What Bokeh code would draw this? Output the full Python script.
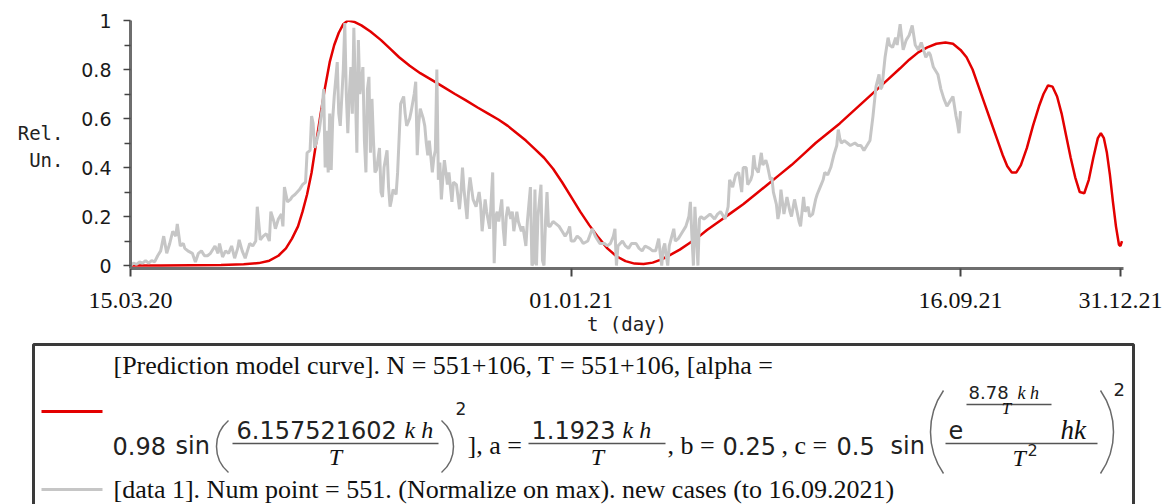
import math
from bokeh.plotting import figure
from bokeh.models import FixedTicker, Range1d
from bokeh.layouts import column, row
from bokeh.embed import file_html
from bokeh.resources import INLINE
from bokeh.core.properties import value

# ---------------- data ----------------
x_ticks = [0, 292, 550, 656]
x_tick_labels = ["15.03.20", "01.01.21", "16.09.21", "31.12.21"]
y_ticks = [0, 0.2, 0.4, 0.6, 0.8, 1.0]
y_tick_labels = ["0", "0.2", "0.4", "0.6", "0.8", "1"]
y_minor = [0.1, 0.3, 0.5, 0.7, 0.9]

# prediction model curve (day, relative units)
red_day = [0, 20, 40, 60, 75, 85, 92, 98, 103, 107, 111, 114, 117, 120, 123, 126, 129, 132, 135, 138,
           141, 144, 148, 153, 159, 166, 172, 178, 185, 192, 199, 207, 215, 222, 230, 237, 244, 250,
           256, 262, 268, 274, 280, 286, 292, 298, 304, 310, 316, 322, 328, 334, 340, 346, 352, 358,
           364, 370, 376, 382, 390, 398, 406, 414, 422, 430, 438, 446, 454, 462, 470, 478, 486, 494,
           502, 510, 516, 522, 528, 534, 540, 545, 550, 554, 558, 562, 566, 570, 574, 578, 581, 584,
           587, 590, 594, 598, 602, 605, 608, 611, 614, 617, 620, 623, 626, 629, 632, 635, 638, 641,
           643, 645, 647, 649, 651, 653, 655, 656, 657]
red_val = [0.0, 0.0, 0.001, 0.002, 0.005, 0.01, 0.02, 0.04, 0.07, 0.11, 0.16, 0.22, 0.29, 0.38, 0.50,
           0.62, 0.73, 0.83, 0.90, 0.95, 0.985, 1.0, 0.995, 0.98, 0.955, 0.92, 0.885, 0.85, 0.815,
           0.785, 0.76, 0.73, 0.70, 0.675, 0.645, 0.62, 0.595, 0.57, 0.54, 0.51, 0.475, 0.44, 0.395,
           0.34, 0.28, 0.22, 0.165, 0.115, 0.07, 0.038, 0.018, 0.008, 0.006, 0.012, 0.025, 0.045,
           0.065, 0.09, 0.115, 0.145, 0.18, 0.215, 0.25, 0.29, 0.33, 0.37, 0.41, 0.455, 0.50, 0.54,
           0.58, 0.625, 0.67, 0.715, 0.76, 0.805, 0.84, 0.87, 0.89, 0.905, 0.91, 0.905, 0.88, 0.85,
           0.80, 0.73, 0.66, 0.59, 0.52, 0.45, 0.405, 0.38, 0.38, 0.41, 0.48, 0.57, 0.65, 0.70,
           0.735, 0.73, 0.69, 0.62, 0.53, 0.44, 0.36, 0.30, 0.295, 0.35, 0.44, 0.52, 0.54, 0.52,
           0.46, 0.37, 0.26, 0.16, 0.085, 0.08, 0.10]

# data_1: normalized new cases (day, relative units)
gray_day = [0, 2, 4, 6, 8, 10, 12, 14, 16, 18, 20, 22, 24, 26, 28, 30, 31, 33, 35, 36, 38, 41, 43, 45,
            47, 49, 51, 53, 56, 58, 59, 61, 63, 65, 67, 69, 71, 72, 74, 76, 78, 79, 81, 83, 84, 86,
            88, 90, 92, 93, 95, 96, 98, 100, 101, 102, 104, 106, 107, 109, 112, 114, 116, 117, 119,
            120, 121, 122, 123, 125, 127, 128, 129, 130, 131, 132, 133, 134, 135, 137, 138, 139, 141,
            142, 143, 144, 145, 146, 147, 148, 150, 151, 152, 154, 155, 156, 157, 158, 159, 160, 161,
            162, 163, 165, 166, 167, 168, 170, 171, 172, 173, 174, 176, 177, 179, 181, 182, 183, 185,
            186, 188, 189, 190, 191, 192, 194, 195, 196, 197, 198, 200, 201, 202, 203, 204, 205, 206,
            207, 208, 210, 211, 213, 214, 216, 218, 219, 220, 221, 223, 224, 225, 227, 229, 231, 232,
            233, 235, 236, 238, 240, 241, 242, 243, 244, 246, 247, 248, 249, 250, 252, 253, 254, 256,
            257, 259, 260, 262, 263, 265, 266, 267, 268, 269, 270, 272, 273, 274, 275, 276, 277, 278,
            280, 282, 284, 286, 288, 290, 291, 292, 294, 296, 298, 300, 303, 306, 308, 309, 311, 314,
            316, 318, 320, 321, 322, 323, 326, 328, 330, 332, 335, 337, 339, 341, 344, 346, 348, 350,
            351, 352, 353, 354, 355, 356, 357, 360, 361, 363, 365, 368, 370, 371, 372, 373, 374, 375,
            376, 377, 378, 380, 382, 384, 387, 389, 391, 393, 394, 396, 397, 399, 401, 403, 405, 406,
            408, 409, 411, 412, 413, 414, 416, 418, 419, 421, 422, 424, 425, 426, 428, 429, 430, 431,
            433, 435, 437, 438, 440, 441, 443, 444, 446, 447, 449, 450, 452, 454, 455, 457, 459, 460,
            462, 464, 466, 468, 469, 470, 471, 473, 475, 477, 480, 482, 484, 486, 487, 489, 490, 492,
            494, 496, 497, 498, 500, 502, 503, 505, 507, 508, 510, 512, 514, 516, 518, 520, 522, 524,
            526, 527, 529, 530, 532, 534, 535, 537, 539, 541, 543, 545, 547, 548, 549, 550]
gray_val = [0.0, 0.01, 0.005, 0.015, 0.01, 0.02, 0.01, 0.02, 0.015, 0.04, 0.06, 0.12, 0.05, 0.09, 0.14,
            0.12, 0.17, 0.08, 0.09, 0.07, 0.06, 0.05, 0.015, 0.05, 0.06, 0.04, 0.04, 0.05, 0.08, 0.05,
            0.09, 0.035, 0.06, 0.05, 0.08, 0.03, 0.07, 0.105, 0.06, 0.03, 0.07, 0.09, 0.08, 0.10, 0.24,
            0.105, 0.12, 0.13, 0.10, 0.22, 0.18, 0.15, 0.19, 0.21, 0.16, 0.32, 0.26, 0.27, 0.28, 0.29,
            0.31, 0.33, 0.34, 0.46, 0.47, 0.61, 0.58, 0.48, 0.50, 0.55, 0.64, 0.72, 0.40, 0.55, 0.38,
            0.62, 0.39, 0.60, 0.69, 0.83, 0.62, 0.57, 0.80, 0.99, 0.70, 0.54, 0.70, 0.81, 0.62, 0.97,
            0.46, 0.92, 0.70, 0.81, 0.51, 0.38, 0.72, 0.77, 0.46, 0.68, 0.51, 0.38, 0.39, 0.48, 0.30,
            0.28, 0.40, 0.47, 0.32, 0.24, 0.27, 0.31, 0.29, 0.38, 0.66, 0.69, 0.62, 0.57, 0.60, 0.63,
            0.70, 0.75, 0.45, 0.58, 0.64, 0.60, 0.57, 0.50, 0.45, 0.51, 0.38, 0.44, 0.47, 0.80, 0.35,
            0.42, 0.27, 0.36, 0.43, 0.33, 0.38, 0.26, 0.34, 0.33, 0.23, 0.30, 0.40, 0.31, 0.19, 0.30,
            0.36, 0.27, 0.24, 0.30, 0.25, 0.14, 0.27, 0.22, 0.15, 0.38, 0.01, 0.20, 0.22, 0.18, 0.27,
            0.15, 0.08, 0.20, 0.24, 0.19, 0.22, 0.14, 0.22, 0.18, 0.14, 0.16, 0.08, 0.18, 0.32, 0.0,
            0.01, 0.31, 0.0, 0.20, 0.33, 0.02, 0.0, 0.18, 0.30, 0.16, 0.16, 0.18, 0.17, 0.16, 0.14,
            0.12, 0.14, 0.16, 0.10, 0.10, 0.12, 0.11, 0.09, 0.10, 0.15, 0.12, 0.11, 0.09, 0.09, 0.08,
            0.09, 0.12, 0.15, 0.0, 0.08, 0.10, 0.08, 0.07, 0.09, 0.09, 0.07, 0.06, 0.08, 0.07, 0.06,
            0.06, 0.11, 0.05, 0.0, 0.07, 0.09, 0.04, 0.0, 0.08, 0.15, 0.10, 0.11, 0.13, 0.16, 0.20,
            0.26, 0.12, 0.0, 0.24, 0.12, 0.0, 0.19, 0.20, 0.19, 0.20, 0.21, 0.19, 0.21, 0.22, 0.20,
            0.19, 0.24, 0.35, 0.32, 0.37, 0.38, 0.30, 0.40, 0.40, 0.33, 0.35, 0.37, 0.45, 0.40, 0.38,
            0.46, 0.41, 0.43, 0.41, 0.35, 0.36, 0.30, 0.25, 0.19, 0.22, 0.31, 0.21, 0.28, 0.22, 0.20,
            0.27, 0.24, 0.18, 0.16, 0.28, 0.22, 0.24, 0.20, 0.21, 0.27, 0.29, 0.32, 0.35, 0.38, 0.37,
            0.40, 0.45, 0.49, 0.555, 0.52, 0.50, 0.51, 0.50, 0.49, 0.50, 0.49, 0.49, 0.47, 0.48, 0.50,
            0.51, 0.61, 0.73, 0.78, 0.72, 0.73, 0.85, 0.93, 0.90, 0.89, 0.93, 0.90, 0.985, 0.88, 0.92,
            0.94, 0.98, 0.90, 0.88, 0.91, 0.87, 0.85, 0.87, 0.86, 0.81, 0.79, 0.78, 0.72, 0.68, 0.65,
            0.67, 0.69, 0.61, 0.58, 0.54, 0.63]

RED = "#e30000"
GRAY = "#c6c6c6"
SERIF = "Liberation Serif"
SANS = "DejaVu Sans"
MONO = "DejaVu Sans Mono"
TEXT_DY = -8  # baseline correction for text glyphs

W = 1173
H_TOP = 340
H_BOT = 504 - H_TOP
W_LEFT = 70


def blank_panel(width, height):
    f = figure(width=width, height=height, x_range=Range1d(0, width), y_range=Range1d(height, 0),
               output_backend="svg", toolbar_location=None, title=None,
               x_axis_location=None, y_axis_location=None, min_border=0)
    f.grid.visible = False
    f.outline_line_color = None
    f.background_fill_color = "white"
    f.border_fill_color = "white"
    f.frame_align = False
    return f


def txt(f, x, y, s, font=SERIF, size="26px", style="normal", align="left", color="#111111"):
    f.text(x=[x], y=[y + TEXT_DY], text=[s], text_font=value(font), text_font_size=value(size),
           text_font_style=value(style), text_align=value(align),
           text_baseline=value("alphabetic"), text_color=color)


# ---------------- y-axis title panel ----------------
pl = blank_panel(W_LEFT, H_TOP)
txt(pl, 63, 140, "Rel.", MONO, "19px", align="right", color="#222222")
txt(pl, 63, 167, "Un.", MONO, "19px", align="right", color="#222222")

# ---------------- main chart ----------------
p = figure(width=W - W_LEFT, height=H_TOP, x_range=Range1d(0, 658), y_range=Range1d(-0.012, 1),
           output_backend="svg", toolbar_location=None, title=None,
           min_border_left=60, min_border_right=50, min_border_top=20, min_border_bottom=72)
p.frame_align = False
p.grid.visible = False
p.outline_line_color = None
p.background_fill_color = "white"
p.border_fill_color = "white"

p.line(red_day, red_val, line_color=RED, line_width=2.5)
p.line(gray_day, gray_val, line_color=GRAY, line_width=3)

xa = p.xaxis[0]
xa.ticker = FixedTicker(ticks=x_ticks)
xa.major_label_overrides = dict(zip(x_ticks, x_tick_labels))
xa.minor_tick_line_color = None
xa.major_tick_in = 0
xa.major_tick_out = 8
xa.major_tick_line_color = "#444444"
xa.major_tick_line_width = 2
xa.axis_line_color = "#6e6e6e"
xa.axis_line_width = 3
xa.major_label_text_font = SERIF
xa.major_label_text_font_size = "24px"
xa.major_label_text_color = "#111111"
xa.major_label_standoff = 16
xa.axis_label = "t (day)"
xa.axis_label_text_font = MONO
xa.axis_label_text_font_size = "19px"
xa.axis_label_text_font_style = "normal"
xa.axis_label_text_color = "#222222"
xa.axis_label_standoff = 2

ya = p.yaxis[0]
ya.ticker = FixedTicker(ticks=y_ticks, minor_ticks=y_minor)
ya.major_label_overrides = dict(zip(y_ticks, y_tick_labels))
ya.major_tick_in = 0
ya.major_tick_out = 7
ya.minor_tick_in = 0
ya.minor_tick_out = 6
ya.major_tick_line_color = "#444444"
ya.minor_tick_line_color = "#444444"
ya.major_tick_line_width = 1.5
ya.minor_tick_line_width = 1.5
ya.axis_line_color = "#6e6e6e"
ya.axis_line_width = 3
ya.major_label_text_font = SANS
ya.major_label_text_font_size = "19px"
ya.major_label_text_color = "#1a1a1a"
ya.major_label_standoff = 12

# ---------------- legend panel (pixel coordinates) ----------------
p2 = blank_panel(W, H_BOT)

p2.quad(left=[33], right=[1133], top=[4], bottom=[220], fill_color=None,
        line_color="#3a3a3a", line_width=3)
p2.line([41, 102], [71, 71], line_color=RED, line_width=3)
p2.line([41, 102], [149, 149], line_color=GRAY, line_width=3)


def hbar(x0, x1, y):
    p2.line([x0, x1], [y, y], line_color="#555555", line_width=1.5)


def paren(x_edge, y0, y1, depth, left=True):
    h = (y1 - y0) / 2.0
    r = (h * h + depth * depth) / (2.0 * depth)
    half = math.asin(h / r)
    cy = (y0 + y1) / 2.0
    if left:
        cx = x_edge + r
        a0, a1 = math.pi - half, math.pi + half
    else:
        cx = x_edge - r
        a0, a1 = -half, half
    p2.arc(x=[cx], y=[cy], radius=r, start_angle=a0, end_angle=a1,
           line_color="#6a6a6a", line_width=1.5)


MATH = "#222222"
txt(p2, 113, 33, "[Prediction model curve]. N = 551+106, T = 551+106, [alpha =")
txt(p2, 113, 157, "[data 1]. Num point = 551. (Normalize on max). new cases (to 16.09.2021)")

# second line: formula
txt(p2, 112, 113, "0.98", SANS, "24px", color=MATH)
txt(p2, 175, 113, "sin", SANS, "24px", color=MATH)
paren(216, 80, 132, 12, left=True)
txt(p2, 236, 97, "6.157521602", SANS, "24px", color=MATH)
txt(p2, 404, 97, "k h", SERIF, "24px", "italic")
hbar(232, 438, 103)
txt(p2, 335, 124, "T", SERIF, "24px", "italic", "center")
paren(453, 80, 132, 12, left=False)
txt(p2, 455, 76, "2", SANS, "17px", color=MATH)
txt(p2, 467, 113, "], a =")
txt(p2, 531, 97, "1.1923", SANS, "24px", color=MATH)
txt(p2, 622, 97, "k h", SERIF, "24px", "italic")
hbar(528, 665, 103)
txt(p2, 597, 124, "T", SERIF, "24px", "italic", "center")
txt(p2, 667, 113, ", b =")
txt(p2, 722, 113, "0.25", SANS, "24px", color=MATH)
txt(p2, 781, 113, ", c =")
txt(p2, 836, 113, "0.5", SANS, "24px", color=MATH)
txt(p2, 890, 113, "sin", SANS, "24px", color=MATH)
paren(930, 50, 133, 13, left=True)
hbar(945, 1097, 103)
txt(p2, 948, 97, "e", SANS, "24px", color=MATH)
txt(p2, 968, 60, "8.78", SANS, "18px", color=MATH)
txt(p2, 1017, 60, "k h", SERIF, "18px", "italic")
hbar(966, 1051, 64)
txt(p2, 1006, 76, "T", SERIF, "17px", "italic", "center")
txt(p2, 1060, 97, "hk", SERIF, "27px", "italic")
txt(p2, 1012, 125, "T", SERIF, "24px", "italic")
txt(p2, 1027, 117, "2", SANS, "16px", color=MATH)
paren(1113, 50, 133, 13, left=False)
txt(p2, 1113, 57, "2", SANS, "18px", color=MATH)

layout = column(row(pl, p), p2)
open("out.html", "w").write(file_html(layout, INLINE))
